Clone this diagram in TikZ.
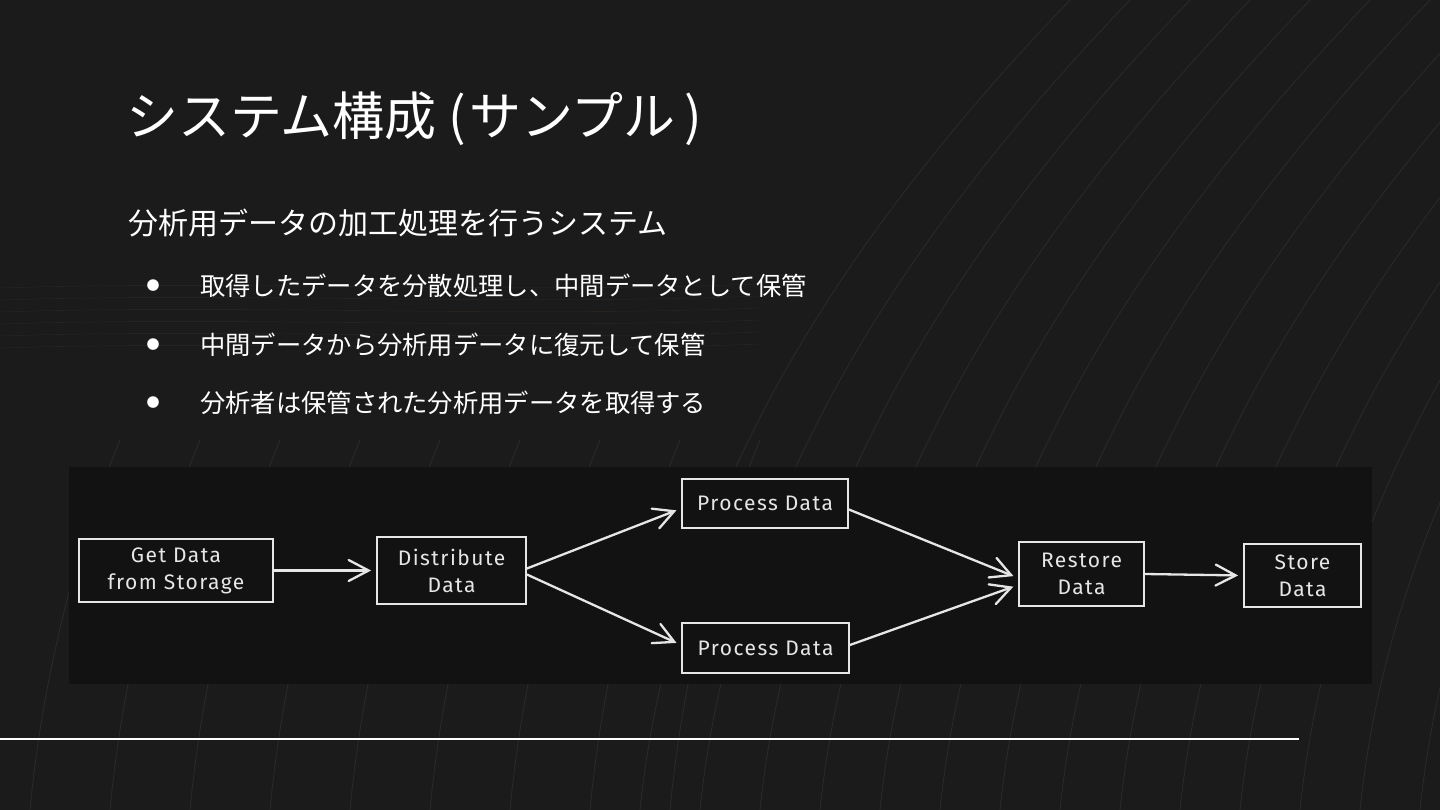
\documentclass[tikz,border=0pt]{standalone}
\usepackage{fontspec}
\setmainfont{Fira Sans}
\newfontfamily\jpfont{Noto Sans CJK JP}
\newfontfamily\sketchfont[LetterSpace=7]{Fira Sans}
\usepackage{xcolor}
\usepackage{tikz}
\usetikzlibrary{arrows.meta}
\usetikzlibrary{positioning}

\definecolor{slidebg}{HTML}{1B1B1B}
\definecolor{panelbg}{HTML}{121212}
\definecolor{chalk}{HTML}{E6E6E6}
\definecolor{ember}{HTML}{8A5A3A}

\tikzset{
  box/.style={draw=chalk, line width=1.8pt, fill=panelbg, text=chalk, align=center,
    font=\sketchfont\fontsize{21}{27}\selectfont, inner sep=0pt},
  flow/.style={draw=chalk, line width=2.3pt, line cap=round,
    -{Straight Barb[length=20pt,width=21pt,line cap=round]}, shorten >=5pt},
  streak/.style={white, opacity=0.07, line width=0.8pt},
  slidetext/.style={anchor=base west, text=white, inner sep=0pt},
  bullet/.style={text=white, font=\jpfont\fontsize{13}{16}\selectfont, inner sep=0pt},
}

\begin{document}
\begin{tikzpicture}[x=1pt,y=-1pt]
        \fill[slidebg] (0,0) rectangle (1440,810);
        \useasboundingbox (0,0) rectangle (1440,810);
        \foreach \x in {640,700,...,1420}
            \draw[streak] (\x,810) .. controls (\x+30,520) and (\x+180,260) .. (\x+430,0);
        \foreach \x in {30,110,...,700}
            \draw[streak] (\x,810) .. controls (\x+10,700) and (\x+40,560) .. (\x+90,440);
        \foreach \y in {288,300,...,348}
            \draw[ember, opacity=0.12, line width=0.7pt] (0,\y) .. controls (250,\y-8) and (500,\y+6) .. (760,\y-4);

        \node[slidetext, font=\jpfont\fontsize{52}{62}\selectfont] (title) at (126,136) {システム構成\hspace{12pt}(\hspace{3pt}サンプル\hspace{9pt})};
        \node[slidetext, font=\jpfont\fontsize{30}{36}\selectfont] (lead) at (128,234.5) {分析用データの加工処理を行うシステム};
        \node[bullet] (dotA) at (153,286) {●};
        \node[bullet] (dotB) at (153,345) {●};
        \node[bullet] (dotC) at (153,403) {●};
        \node[slidetext, font=\jpfont\fontsize{25.3}{30}\selectfont] (itemA) at (200,295) {取得したデータを分散処理し、中間データとして保管};
        \node[slidetext, font=\jpfont\fontsize{25.3}{30}\selectfont] (itemB) at (200,354) {中間データから分析用データに復元して保管};
        \node[slidetext, font=\jpfont\fontsize{25.3}{30}\selectfont] (itemC) at (200,412) {分析者は保管された分析用データを取得する};

        \fill[panelbg] (69,467) rectangle (1372,684);
        \node[box, minimum width=194pt, minimum height=63pt] (get) at (176,570.5) {Get Data\\from Storage};
        \node[box, minimum width=149pt, minimum height=67pt] (dist) at (451.5,570.5) {Distribute\\Data};
        \node[box, minimum width=166pt, minimum height=49pt] (procA) at (765,503.5) {Process Data};
        \node[box, minimum width=167pt, minimum height=50pt] (procB) at (765.5,648) {Process Data};
        \node[box, minimum width=125pt, minimum height=64pt] (restore) at (1081.5,574) {Restore\\Data};
        \node[box, minimum width=117pt, minimum height=63pt] (store) at (1302.5,575.5) {Store\\Data};

        \draw[flow] (get.east) -- (dist.west);
        \draw[flow] ([yshift=2pt]dist.east) -- ([yshift=-5pt]procA.west);
        \draw[flow] ([yshift=-4pt]dist.east) -- ([yshift=3pt]procB.west);
        \draw[flow] ([yshift=-6pt]procA.east) -- ([yshift=-4pt]restore.west);
        \draw[flow] ([yshift=3pt]procB.east) -- ([yshift=-11pt]restore.west);
        \draw[flow] (restore.east) -- (store.west);

        \draw[white, line width=2.5pt] (0,739) -- (1299,739);
\end{tikzpicture}
\end{document}
